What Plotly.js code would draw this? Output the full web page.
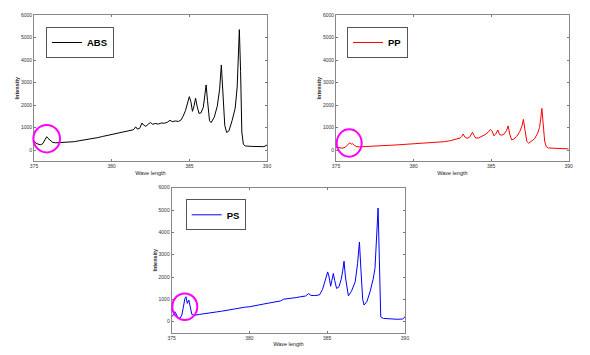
<!DOCTYPE html>
<html>
<head>
<meta charset="utf-8">
<script src="https://cdn.plot.ly/plotly-3.0.1.min.js"></script>
<style>html,body{margin:0;padding:0;background:#fff;}#chart{width:590px;height:355px;}</style>
</head>
<body>
<div id="chart"></div>
<script>
// ---- data ----
const seriesNames = ["ABS", "PP", "PS"];
const xTicks = [375, 380, 385, 390];
const yTicks = [0, 1000, 2000, 3000, 4000, 5000, 6000];

const absX = [375.00,375.08,375.2,375.4,375.55,375.7,375.82,375.9,376.0,376.1,376.2,376.4,376.6,376.8,377.0,377.3,377.6,377.9,378.2,378.5,378.8,379.1,379.4,379.6,379.8,380.0,380.2,380.4,380.6,380.8,381.0,381.2,381.4,381.55,381.65,381.8,381.95,382.05,382.2,382.35,382.5,382.65,382.8,383.0,383.2,383.4,383.6,383.75,383.9,384.1,384.3,384.45,384.6,384.75,384.9,385.0,385.1,385.2,385.3,385.4,385.5,385.62,385.75,385.9,386.0,386.08,386.17,386.3,386.4,386.6,386.8,386.95,387.06,387.15,387.28,387.4,387.55,387.75,387.95,388.08,388.15,388.22,388.3,388.38,388.48,388.6,389.0,389.5,389.8,390.0];
const absY = [420,330,280,230,270,420,590,520,450,380,340,320,330,320,340,355,370,410,440,470,510,550,600,630,660,690,710,740,770,800,830,860,900,1030,930,960,1200,1110,1050,1150,1220,1140,1180,1150,1200,1190,1240,1320,1260,1290,1270,1320,1500,1750,2150,2370,2150,1720,1950,2300,1950,1630,1650,1900,2450,2890,2200,1300,1220,1450,1950,2700,3780,2500,1100,780,850,1300,1850,2800,3800,5350,3500,800,250,180,160,150,150,220];

const ppX = [375.0,375.2,375.4,375.6,375.75,375.88,375.98,376.08,376.2,376.35,376.5,377.0,377.5,378.0,378.5,379.0,379.5,380.0,380.5,381.0,381.5,382.0,382.4,382.8,383.0,383.1,383.2,383.3,383.45,383.6,383.72,383.8,383.9,384.0,384.2,384.4,384.6,384.8,384.95,385.05,385.18,385.3,385.43,385.55,385.7,385.85,386.0,386.1,386.2,386.32,386.45,386.65,386.85,386.98,387.08,387.18,387.3,387.42,387.6,387.8,388.0,388.12,388.2,388.27,388.35,388.45,388.55,388.7,389.0,389.5,390.0];
const ppY = [130,100,80,120,230,320,260,280,200,150,140,150,170,190,210,230,250,270,290,320,340,370,420,480,530,600,710,580,520,560,700,790,650,530,540,600,680,780,910,860,630,720,890,680,660,720,880,1070,700,450,480,600,830,1050,1360,900,380,300,380,500,750,1000,1400,1850,1200,400,150,90,80,60,50];

const psX = [375.0,375.1,375.2,375.3,375.42,375.53,375.65,375.75,375.85,375.92,376.0,376.1,376.18,376.3,376.45,376.6,376.8,377.0,377.3,377.6,377.9,378.2,378.5,378.8,379.1,379.4,379.7,380.0,380.3,380.6,380.9,381.2,381.5,381.8,382.0,382.2,382.5,382.8,383.0,383.3,383.6,383.8,383.95,384.2,384.5,384.7,384.86,385.03,385.12,385.22,385.3,385.39,385.48,385.6,385.75,385.9,386.0,386.08,386.17,386.3,386.36,386.55,386.8,386.95,387.07,387.17,387.28,387.37,387.55,387.75,387.95,388.07,388.17,388.27,388.35,388.44,388.6,389.0,389.5,389.85,390.0];
const psY = [220,300,450,330,180,150,300,650,1050,1120,820,970,700,320,290,320,330,350,370,400,440,470,510,550,590,610,650,670,720,760,790,830,880,930,930,1010,1030,1070,1080,1120,1150,1260,1180,1170,1200,1450,1790,2230,2000,1590,1850,2160,1850,1490,1560,1900,2300,2710,2000,1250,1160,1350,1790,2600,3570,2300,1000,745,900,1340,1900,2380,3500,5090,2800,220,150,120,110,120,220];

const colors = ["#000000", "#ff0000", "#0000ff"];

// ---- layout helpers ----
const W = 590, H = 355;
const px = v => v / W;
const py = v => 1 - v / H;

const tickFont = {family: "Liberation Sans, Arial, sans-serif", size: 5, color: "#333"};
const titleFont = {family: "Liberation Sans, Arial, sans-serif", size: 5.5, color: "#222"};

function xAxis(domain, anchor) {
  return {domain: domain, anchor: anchor, range: [375, 390], tickvals: xTicks, ticktext: xTicks.map(String),
    ticks: "inside", ticklen: 2, tickcolor: "#777", showline: true, linecolor: "#888", linewidth: 1, mirror: "ticks",
    showgrid: false, zeroline: false, tickfont: tickFont,
    title: {text: "Wave length", font: titleFont, standoff: 2}};
}
function yAxis(domain, anchor) {
  return {domain: domain, anchor: anchor, range: [-500, 6000], tickvals: yTicks, ticktext: yTicks.map(String),
    ticks: "inside", ticklen: 2, tickcolor: "#777", showline: true, linecolor: "#888", linewidth: 1, mirror: "ticks",
    showgrid: false, zeroline: false, tickfont: tickFont,
    title: {text: "<b>Intensity</b>", font: titleFont, standoff: 0}};
}

const traces = [
  {x: absX, y: absY, xaxis: "x", yaxis: "y", legend: "legend", name: seriesNames[0], type: "scatter", mode: "lines", line: {color: colors[0], width: 1}},
  {x: ppX, y: ppY, xaxis: "x2", yaxis: "y2", legend: "legend2", name: seriesNames[1], type: "scatter", mode: "lines", line: {color: colors[1], width: 1}},
  {x: psX, y: psY, xaxis: "x3", yaxis: "y3", legend: "legend3", name: seriesNames[2], type: "scatter", mode: "lines", line: {color: colors[2], width: 1}}
];

const legFont = {family: "Liberation Sans, Arial, sans-serif", size: 9.5, color: "#000", weight: "bold"};
function leg(x, y) {
  return {x: px(x), y: py(y), xanchor: "left", yanchor: "top", xref: "paper", yref: "paper",
    bordercolor: "#555", borderwidth: 1, bgcolor: "#fff", font: legFont, itemwidth: 30, tracegroupgap: 0};
}

function circ(cx, cy, rx, ry) {
  return {type: "circle", xref: "paper", yref: "paper", x0: px(cx - rx), x1: px(cx + rx), y0: py(cy + ry), y1: py(cy - ry),
    line: {color: "#ff00ff", width: 2}};
}

const layout = {
  width: W, height: H, margin: {l: 0, r: 0, t: 0, b: 0}, paper_bgcolor: "#fff", plot_bgcolor: "#fff",
  showlegend: true,
  xaxis: xAxis([px(34), px(267)], "y"),
  yaxis: yAxis([py(161.25), py(15)], "x"),
  xaxis2: xAxis([px(336), px(568.7)], "y2"),
  yaxis2: yAxis([py(161.25), py(15)], "x2"),
  xaxis3: xAxis([px(171.7), px(405)], "y3"),
  yaxis3: yAxis([py(332.9), py(187.7)], "x3"),
  legend: leg(46, 27),
  legend2: leg(347, 27),
  legend3: leg(185.7, 199.3),
  shapes: [circ(46.7, 138.7, 13.3, 13.7), circ(349.2, 143, 12.5, 13.7), circ(184.8, 306.7, 12.5, 13.3)]
};

Plotly.newPlot("chart", traces, layout, {displayModeBar: false, staticPlot: true});
</script>
</body>
</html>
